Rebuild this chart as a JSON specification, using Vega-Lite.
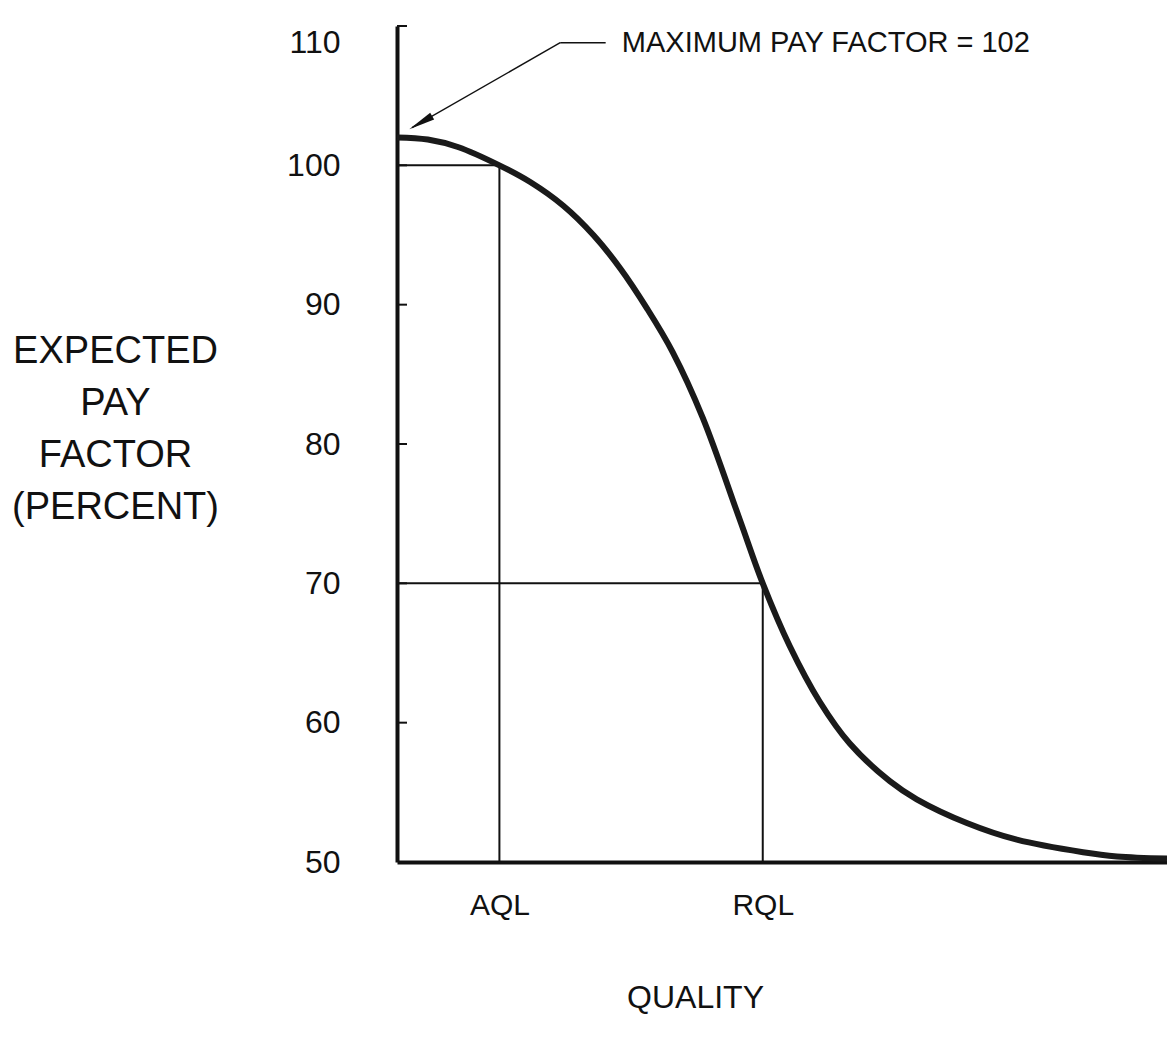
{
  "$schema": "https://vega.github.io/schema/vega-lite/v6.json",
  "width": 770,
  "height": 836,
  "autosize": {"type": "none"},
  "padding": {"left": 397, "top": 26, "right": 0, "bottom": 188},
  "background": "white",
  "config": {"view": {"stroke": null}, "font": "Liberation Sans"},
  "datasets": {
    "curve": [
      {"q": 0, "pf": 102.0},
      {"q": 4, "pf": 101.85},
      {"q": 8, "pf": 101.3},
      {"q": 13.3, "pf": 100.0},
      {"q": 17.3, "pf": 98.8},
      {"q": 21.6, "pf": 97.1},
      {"q": 25.5, "pf": 95.0},
      {"q": 29.0, "pf": 92.6},
      {"q": 32.5, "pf": 89.7},
      {"q": 35.8, "pf": 86.6},
      {"q": 39.7, "pf": 81.9},
      {"q": 44.5, "pf": 74.6},
      {"q": 47.5, "pf": 70.0},
      {"q": 51.0, "pf": 65.5},
      {"q": 54.9, "pf": 61.5},
      {"q": 58.8, "pf": 58.5},
      {"q": 64.0, "pf": 55.8},
      {"q": 67.5, "pf": 54.5},
      {"q": 74.0, "pf": 52.8},
      {"q": 80.5, "pf": 51.6},
      {"q": 89.1, "pf": 50.7},
      {"q": 93.5, "pf": 50.4},
      {"q": 100, "pf": 50.25}
    ],
    "refs": [
      {"q": 0, "q2": 13.3, "pf": 100, "pf2": 100},
      {"q": 13.3, "q2": 13.3, "pf": 50, "pf2": 100},
      {"q": 0, "q2": 47.5, "pf": 70, "pf2": 70},
      {"q": 47.5, "q2": 47.5, "pf": 50, "pf2": 70}
    ],
    "yticks": [{"pf": 60}, {"pf": 70}, {"pf": 80}, {"pf": 90}, {"pf": 100}, {"pf": 110}],
    "leader": [
      {"q": 21.2, "q2": 27.1, "pf": 108.8, "pf2": 108.8},
      {"q": 21.2, "q2": 1.95, "pf": 108.8, "pf2": 102.7}
    ],
    "note": [{"q": 29.2, "pf": 108.8, "text": "MAXIMUM PAY FACTOR = 102"}],
    "head": [{"q": 3.08, "pf": 103.06}]
  },
  "layer": [
    {
      "data": {"name": "refs"},
      "mark": {"type": "rule", "color": "#111", "strokeWidth": 2},
      "encoding": {
        "x": {
          "field": "q", "type": "quantitative",
          "scale": {"domain": [0, 100], "nice": false, "zero": false},
          "axis": {
            "values": [13.3, 47.5],
            "labelExpr": "datum.value < 30 ? 'AQL' : 'RQL'",
            "ticks": false,
            "grid": false,
            "domainWidth": 4,
            "domainColor": "#111",
            "labelFontSize": 30,
            "labelColor": "#111",
            "labelPadding": 28,
            "title": "QUALITY",
            "titleFontSize": 32,
            "titleFontWeight": "normal",
            "titleColor": "#111",
            "titleX": 298,
            "titleY": 120,
            "titleAlign": "center",
            "titleBaseline": "top"
          }
        },
        "x2": {"field": "q2"},
        "y": {
          "field": "pf", "type": "quantitative",
          "scale": {"domain": [50, 110], "nice": false, "zero": false},
          "axis": {
            "values": [50, 60, 70, 80, 90, 100, 110],
            "grid": false,
            "domainWidth": 4,
            "domainColor": "#111",
            "ticks": false,
            "labelFontSize": 32,
            "labelColor": "#111",
            "labelPadding": 57,
            "labelOffset": {"condition": {"test": "datum.value == 110", "value": 16}, "value": 0},
            "title": ["EXPECTED", "PAY", "FACTOR", "(PERCENT)"],
            "titleAngle": 0,
            "titleAlign": "center",
            "titleBaseline": "top",
            "titleX": -282,
            "titleY": 306,
            "titleFontSize": 38,
            "titleFontWeight": "normal",
            "titleLineHeight": 52,
            "titleColor": "#111"
          }
        },
        "y2": {"field": "pf2"}
      }
    },
    {
      "data": {"name": "yticks"},
      "mark": {"type": "rule", "color": "#111", "strokeWidth": 2},
      "encoding": {
        "x": {"datum": 0, "type": "quantitative"},
        "x2": {"datum": 1.3},
        "y": {"field": "pf", "type": "quantitative"}
      }
    },
    {
      "data": {"name": "curve"},
      "mark": {"type": "line", "color": "#1a1a1a", "strokeWidth": 6, "interpolate": "catmull-rom"},
      "encoding": {
        "x": {"field": "q", "type": "quantitative"},
        "y": {"field": "pf", "type": "quantitative"}
      }
    },
    {
      "data": {"name": "leader"},
      "mark": {"type": "rule", "color": "#111", "strokeWidth": 1.4},
      "encoding": {
        "x": {"field": "q", "type": "quantitative"},
        "x2": {"field": "q2"},
        "y": {"field": "pf", "type": "quantitative"},
        "y2": {"field": "pf2"}
      }
    },
    {
      "data": {"name": "head"},
      "mark": {"type": "point", "shape": "M0,-1L0.3,1L-0.3,1Z", "angle": 240, "size": 700, "filled": true, "color": "#111", "opacity": 1},
      "encoding": {
        "x": {"field": "q", "type": "quantitative"},
        "y": {"field": "pf", "type": "quantitative"}
      }
    },
    {
      "data": {"name": "note"},
      "mark": {"type": "text", "align": "left", "baseline": "middle", "fontSize": 29, "color": "#111"},
      "encoding": {
        "x": {"field": "q", "type": "quantitative"},
        "y": {"field": "pf", "type": "quantitative"},
        "text": {"field": "text"}
      }
    }
  ]
}
